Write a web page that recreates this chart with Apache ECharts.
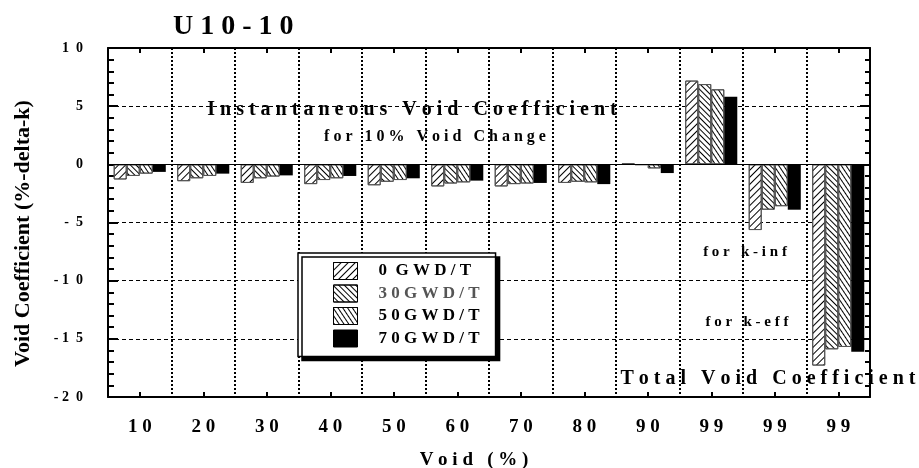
<!DOCTYPE html>
<html>
<head>
<meta charset="utf-8">
<script src="https://cdn.jsdelivr.net/npm/echarts@6/dist/echarts.min.js"></script>
<style>html,body{margin:0;padding:0;background:#fff}#c{width:919px;height:468px}</style>
</head>
<body>
<div id="c"></div>
<script>
// ---- data ----
const categories = ['10','20','30','40','50','60','70','80','90','99','99','99'];
const seriesNames = ['0  G W D / T', '3 0 G W D / T', '5 0 G W D / T', '7 0 G W D / T'];
const s0 = [-1.30, -1.45, -1.60, -1.70, -1.80, -1.90, -1.90, -1.60,  0.10, 7.20, -5.65, -17.30];
const s30 = [-1.00, -1.20, -1.20, -1.35, -1.50, -1.65, -1.70, -1.50, -0.05, 6.90, -3.90, -15.90];
const s50 = [-0.80, -1.00, -1.05, -1.20, -1.35, -1.55, -1.65, -1.55, -0.35, 6.45, -3.60, -15.70];
const s70 = [-0.65, -0.80, -0.95, -1.00, -1.20, -1.40, -1.60, -1.70, -0.75, 5.80, -3.90, -16.10];
const yTickValues = [-20, -15, -10, -5, 0, 5, 10];
const yTickLabels = ['- 2  0', '- 1  5', '- 1  0', '-  5', '0', '5', '1  0'];

const FONT = '"Liberation Serif", "DejaVu Serif", serif';
const spaced = s => s.split(' ').map(w => w.split('').join(' ')).join('   ');

const chart = echarts.init(document.getElementById('c'), null, {renderer: 'canvas'});

const decals = [
  {symbol: 'rect', symbolSize: 1, color: '#000', dashArrayX: [1, 0], dashArrayY: [1, 4], rotation: -Math.PI / 4},
  {symbol: 'rect', symbolSize: 1, color: '#000', dashArrayX: [1, 0], dashArrayY: [1, 3], rotation: Math.PI / 4},
  {symbol: 'rect', symbolSize: 1, color: '#000', dashArrayX: [1, 0], dashArrayY: [1, 3], rotation: Math.PI / 3.2},
  null
];
const allData = [s0, s30, s50, s70];

const series = allData.map((d, i) => {
  const s = {
    name: seriesNames[i],
    type: 'bar',
    data: d,
    barGap: '0%',
    barCategoryGap: '18%',
    animation: false,
    itemStyle: i === 3
      ? {color: '#000', borderColor: '#000', borderWidth: 0}
      : {color: '#fff', borderColor: '#555', borderWidth: 1, decal: decals[i]}
  };
  if (i === 0) {
    s.markLine = {
      silent: true, symbol: ['none', 'none'], animation: false,
      label: {show: false},
      lineStyle: {color: '#000', type: 'solid', width: 1},
      data: [{yAxis: 0}]
    };
  }
  return s;
});

const option = {
  backgroundColor: '#fff',
  animation: false,
  title: {
    text: spaced('U10-10'),
    left: 168, top: 8,
    textStyle: {fontFamily: FONT, fontSize: 28, fontWeight: 'bold', color: '#000'}
  },
  grid: {left: 108, right: 49, top: 48, bottom: 71, containLabel: false, outerBoundsMode: 'none'},
  legend: {
    orient: 'vertical',
    left: 298, top: 253,
    padding: [9, 16, 9, 35],
    icon: 'rect',
    itemWidth: 24, itemHeight: 17, itemGap: 4.5,
    backgroundColor: '#fff',
    borderColor: '#000', borderWidth: 1.5,
    shadowColor: '#000', shadowBlur: 0, shadowOffsetX: 4, shadowOffsetY: 4,
    itemStyle: {borderColor: '#000', borderWidth: 1},
    textStyle: {fontFamily: FONT, fontSize: 17, fontWeight: 'bold', color: '#000', padding: [0, 0, 0, 16]},
    data: seriesNames.map((n, i) => ({name: n, textStyle: {color: i === 1 ? '#555' : '#000'}})),
    selectedMode: false
  },
  xAxis: [
    {
      type: 'category', data: categories, position: 'bottom',
      axisLine: {onZero: false, lineStyle: {color: '#000', width: 2}},
      axisTick: {show: false},
      axisLabel: {fontFamily: FONT, fontSize: 19, fontWeight: 'bold', color: '#000', margin: 21,
                  formatter: v => v.split('').join(' ')},
      splitLine: {show: true, interval: 0, lineStyle: {color: '#000', type: [2, 2], width: 2}},
      name: spaced('Void (%)'),
      nameLocation: 'middle', nameGap: 54,
      nameTextStyle: {fontFamily: FONT, fontSize: 19, fontWeight: 'bold', color: '#000', padding: [0, 30, 0, 0]}
    },
    {
      type: 'category', data: categories, position: 'top',
      axisLine: {onZero: false, lineStyle: {color: '#000', width: 2}},
      axisTick: {show: true, inside: true, alignWithLabel: true, length: 5, lineStyle: {color: '#000', width: 2}},
      axisLabel: {show: false}, splitLine: {show: false}
    },
    {
      type: 'category', data: categories, position: 'bottom',
      axisLine: {onZero: false, show: false},
      axisTick: {show: true, inside: true, alignWithLabel: true, length: 5, lineStyle: {color: '#000', width: 2}},
      axisLabel: {show: false}, splitLine: {show: false}
    }
  ],
  yAxis: [
    {
      type: 'value', min: -20, max: 10, interval: 5, position: 'left',
      axisLine: {show: true, lineStyle: {color: '#000', width: 2}},
      axisTick: {show: true, inside: true, length: 10, lineStyle: {color: '#000', width: 2}},
      minorTick: {show: true, splitNumber: 5, length: 6, lineStyle: {color: '#000', width: 2}},
      axisLabel: {fontFamily: FONT, fontSize: 14, fontWeight: 'bold', color: '#000', margin: 25,
                  formatter: v => yTickLabels[yTickValues.indexOf(v)]},
      splitLine: {show: true, lineStyle: {color: '#000', type: [4, 3], width: 1}},
      name: 'Void Coefficient (%-delta-k)',
      nameLocation: 'middle', nameGap: 74, nameRotate: 90,
      nameTextStyle: {fontFamily: FONT, fontSize: 22, fontWeight: 'bold', color: '#000', padding: [0, 22, 0, 0]}
    },
    {
      type: 'value', min: -20, max: 10, interval: 5, position: 'right',
      axisLine: {show: true, lineStyle: {color: '#000', width: 2}},
      axisTick: {show: true, inside: true, length: 10, lineStyle: {color: '#000', width: 2}},
      minorTick: {show: true, splitNumber: 5, length: 5, lineStyle: {color: '#000', width: 2}},
      axisLabel: {show: false}, splitLine: {show: false}
    }
  ],
  graphic: [
    {type: 'text', x: 412, y: 110, z: 100,
     style: {text: spaced('Instantaneous Void Coefficient'), fill: '#000', align: 'center', verticalAlign: 'middle',
             font: 'bold 20px ' + FONT}},
    {type: 'text', x: 435, y: 137, z: 100,
     style: {text: spaced('for 10% Void Change'), fill: '#000', align: 'center', verticalAlign: 'middle',
             font: 'bold 16px ' + FONT}},
    {type: 'text', x: 745, y: 252, z: 100,
     style: {text: spaced('for k-inf'), fill: '#000', align: 'center', verticalAlign: 'middle',
             font: 'bold 15px ' + FONT}},
    {type: 'text', x: 747, y: 322, z: 100,
     style: {text: spaced('for k-eff'), fill: '#000', align: 'center', verticalAlign: 'middle',
             font: 'bold 15px ' + FONT}},
    {type: 'text', x: 768, y: 379, z: 100,
     style: {text: spaced('Total Void Coefficient'), fill: '#000', align: 'center', verticalAlign: 'middle',
             font: 'bold 20px ' + FONT}}
  ],
  series: series
};
chart.setOption(option);
</script>
</body>
</html>
